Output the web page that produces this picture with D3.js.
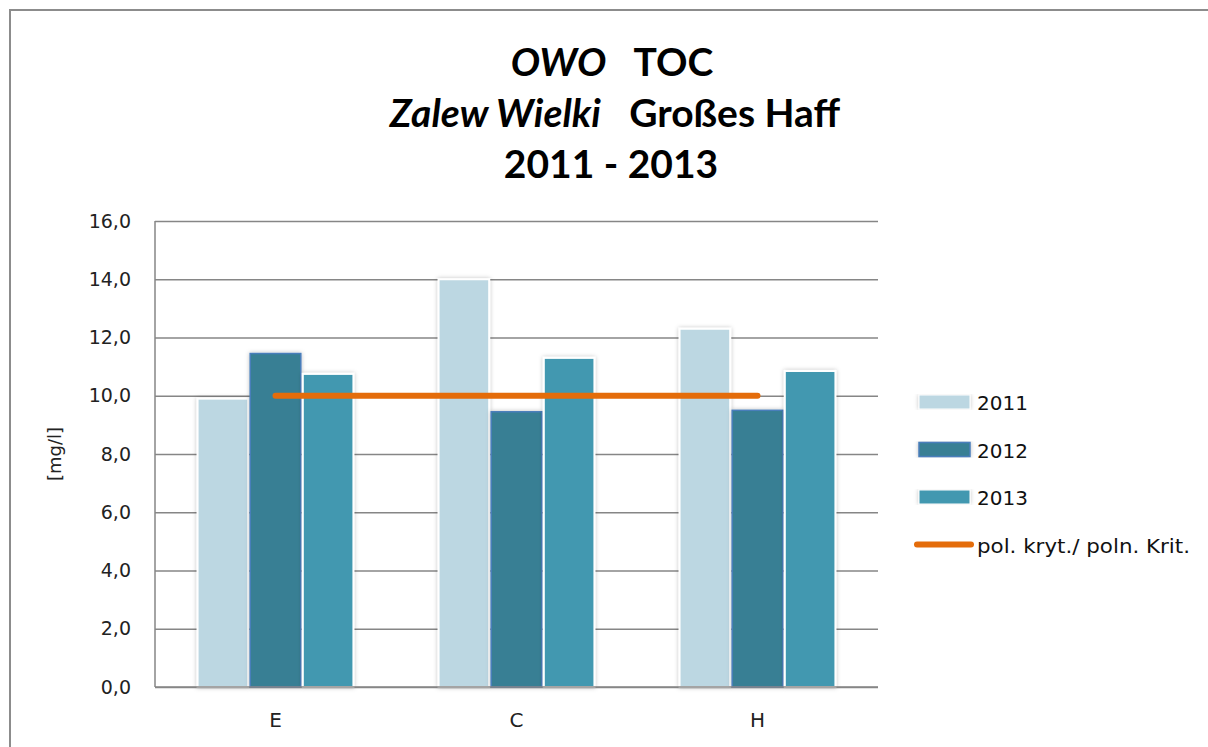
<!DOCTYPE html>
<html>
<head>
<meta charset="utf-8">
<script src="https://cdn.jsdelivr.net/npm/d3@7"></script>
<style>
  body { margin: 0; background: #fff; }
  svg { display: block; font-family: "DejaVu Sans", sans-serif; }
</style>
</head>
<body>
<div id="chart"></div>
<script>
// données
var stations = ["E", "C", "H"];
var annees = ["2011", "2012", "2013"];
var v2011 = [9.9, 14.0, 12.3];
var v2012 = [11.45, 9.45, 9.5];
var v2013 = [10.75, 11.3, 10.85];
var critere = [10.0, 10.0, 10.0];
var ticksY = [0, 2, 4, 6, 8, 10, 12, 14, 16];
var libelleLigne = "pol. kryt./ poln. Krit.";

var series = [v2011, v2012, v2013];
var couleurs = ["#bcd7e2", "#377f94", "#4398b0"];
var bordures = ["#ffffff", "#4a7ebb", "#ffffff"];

var largeur = 1208, hauteur = 747;
var svg = d3.select("#chart").append("svg")
  .attr("width", largeur).attr("height", hauteur);

// ombre des barres
var defs = svg.append("defs");
var f = defs.append("filter").attr("id", "ombre")
  .attr("x", "-20%").attr("y", "-5%").attr("width", "140%").attr("height", "110%");
f.append("feDropShadow").attr("dx", 0).attr("dy", 0).attr("stdDeviation", 2)
  .attr("flood-color", "#000").attr("flood-opacity", 0.25);

// cadre
svg.append("rect")
  .attr("x", 10).attr("y", 10).attr("width", largeur + 20).attr("height", hauteur + 20)
  .attr("fill", "none").attr("stroke", "#8c8c8c").attr("stroke-width", 2);

// titre (3 lignes)
var policeTitre = "Lato, sans-serif";
var t1 = svg.append("text").attr("text-anchor", "middle").attr("x", 612).attr("y", 76)
  .attr("font-family", policeTitre).attr("font-size", 39).attr("font-weight", "bold");
t1.append("tspan").attr("font-style", "italic").text("OWO");
t1.append("tspan").text("\u00a0\u00a0 TOC");

var t2 = svg.append("text").attr("text-anchor", "middle").attr("x", 615).attr("y", 127)
  .attr("font-family", policeTitre).attr("font-size", 39).attr("font-weight", "bold");
t2.append("tspan").attr("font-style", "italic").text("Zalew Wielki");
t2.append("tspan").text("\u00a0\u00a0 Großes Haff");

svg.append("text").attr("text-anchor", "middle").attr("x", 611).attr("y", 178)
  .attr("font-family", policeTitre).attr("font-size", 39).attr("font-weight", "bold")
  .text("2011 - 2013");

// zone du graphique
var gauche = 155, droite = 878, haut = 221, bas = 687;

var y = d3.scaleLinear().domain([0, 16]).range([bas, haut]);
var x0 = d3.scaleBand().domain(stations).range([gauche, droite])
  .paddingInner(0.345).paddingOuter(0.1725);
var x1 = d3.scaleBand().domain(annees).range([0, x0.bandwidth()]);

// grille
svg.append("g").attr("transform", "translate(" + gauche + ",0)")
  .call(d3.axisLeft(y).tickValues(ticksY).tickSize(-(droite - gauche)).tickFormat(""))
  .call(function(g){
    g.select(".domain").remove();
    g.selectAll("line").attr("stroke", "#868686").attr("stroke-width", 1.5);
  });

// barres
var groupes = svg.append("g").selectAll("g")
  .data(stations).enter().append("g")
  .attr("transform", function(d){ return "translate(" + x0(d) + ",0)"; });

groupes.selectAll("rect")
  .data(function(d, i){ return annees.map(function(a, j){ return { annee: a, serie: j, v: series[j][i] }; }); })
  .enter().append("rect")
  .attr("x", function(d){ return x1(d.annee) + 1; })
  .attr("width", x1.bandwidth() - 2)
  .attr("y", function(d){ return y(d.v); })
  .attr("height", function(d){ return bas - y(d.v); })
  .attr("fill", function(d){ return couleurs[d.serie]; })
  .attr("stroke", function(d){ return bordures[d.serie]; })
  .attr("stroke-width", function(d){ return d.serie === 1 ? 1.5 : 2; })
  .attr("filter", "url(#ombre)");

// axes
svg.append("line").attr("x1", gauche).attr("x2", gauche).attr("y1", haut).attr("y2", bas)
  .attr("stroke", "#868686").attr("stroke-width", 1.5);
svg.append("line").attr("x1", gauche).attr("x2", droite).attr("y1", bas).attr("y2", bas)
  .attr("stroke", "#868686").attr("stroke-width", 1.5);

var axeY = svg.append("g").attr("transform", "translate(" + gauche + ",0)")
  .call(d3.axisLeft(y).tickValues(ticksY).tickSize(0).tickPadding(24)
    .tickFormat(function(d){ return d3.format(".1f")(d).replace(".", ","); }));
axeY.select(".domain").remove();
axeY.selectAll("text").attr("font-size", 19).attr("fill", "#222")
  .attr("font-family", "DejaVu Sans, sans-serif");

var axeX = svg.append("g").attr("transform", "translate(0," + bas + ")")
  .call(d3.axisBottom(x0).tickSize(0).tickPadding(26));
axeX.select(".domain").remove();
axeX.selectAll("text").attr("font-size", 20).attr("fill", "#222")
  .attr("font-family", "DejaVu Sans, sans-serif");

svg.append("text")
  .attr("transform", "translate(61," + ((haut + bas) / 2) + ") rotate(-90)")
  .attr("text-anchor", "middle").attr("font-size", 18).attr("fill", "#222")
  .text("[mg/l]");

// ligne du critère
var ligne = d3.line()
  .x(function(d, i){ return x0(stations[i]) + x0.bandwidth() / 2; })
  .y(function(d){ return y(d); });
svg.append("path").datum(critere)
  .attr("d", ligne).attr("fill", "none")
  .attr("stroke", "#e46c0a").attr("stroke-width", 6).attr("stroke-linecap", "round");

// légende
var leg = svg.append("g").attr("transform", "translate(919,395)");
annees.forEach(function(a, j){
  var g = leg.append("g").attr("transform", "translate(0," + (j * 47.5) + ")");
  g.append("rect").attr("width", 51).attr("height", 14)
    .attr("fill", couleurs[j]).attr("stroke", bordures[j]).attr("stroke-width", j === 1 ? 1.5 : 1)
    .attr("filter", "url(#ombre)");
  g.append("text").attr("x", 58).attr("y", 15).attr("font-size", 20).attr("fill", "#111").text(a);
});
var gl = leg.append("g").attr("transform", "translate(0," + (3 * 47.5) + ")");
gl.append("line").attr("x1", -2).attr("x2", 52).attr("y1", 7).attr("y2", 7)
  .attr("stroke", "#e46c0a").attr("stroke-width", 6).attr("stroke-linecap", "round");
gl.append("text").attr("x", 58).attr("y", 15).attr("font-size", 19).attr("fill", "#111")
  .attr("textLength", 213).attr("lengthAdjust", "spacingAndGlyphs").text(libelleLigne);
</script>
</body>
</html>
